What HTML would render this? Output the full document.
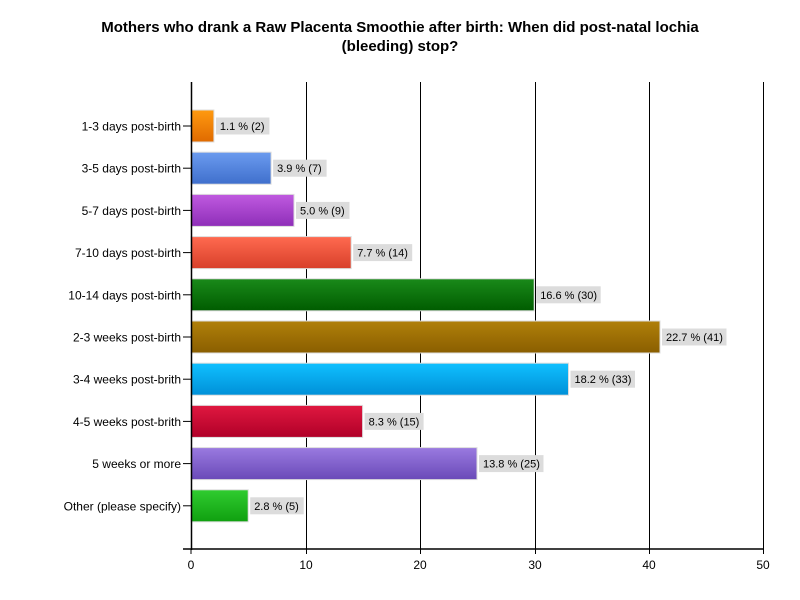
<!DOCTYPE html>
<html><head><meta charset="utf-8"><style>body{margin:0;background:#fff}svg{display:block}</style></head><body>
<svg width="800" height="600" xmlns="http://www.w3.org/2000/svg" font-family="Liberation Sans, sans-serif">
<defs>
<linearGradient id="g0" x1="0" y1="0" x2="0" y2="1"><stop offset="0" stop-color="#ff9a10"/><stop offset="1" stop-color="#e06a00"/></linearGradient>
<linearGradient id="g1" x1="0" y1="0" x2="0" y2="1"><stop offset="0" stop-color="#6b9bef"/><stop offset="1" stop-color="#3f6fcc"/></linearGradient>
<linearGradient id="g2" x1="0" y1="0" x2="0" y2="1"><stop offset="0" stop-color="#c05ae0"/><stop offset="1" stop-color="#8e2eb8"/></linearGradient>
<linearGradient id="g3" x1="0" y1="0" x2="0" y2="1"><stop offset="0" stop-color="#ff6a50"/><stop offset="1" stop-color="#d8402a"/></linearGradient>
<linearGradient id="g4" x1="0" y1="0" x2="0" y2="1"><stop offset="0" stop-color="#1a8a1a"/><stop offset="1" stop-color="#005c00"/></linearGradient>
<linearGradient id="g5" x1="0" y1="0" x2="0" y2="1"><stop offset="0" stop-color="#b0800a"/><stop offset="1" stop-color="#8a5e00"/></linearGradient>
<linearGradient id="g6" x1="0" y1="0" x2="0" y2="1"><stop offset="0" stop-color="#10c0ff"/><stop offset="1" stop-color="#0090d8"/></linearGradient>
<linearGradient id="g7" x1="0" y1="0" x2="0" y2="1"><stop offset="0" stop-color="#e01840"/><stop offset="1" stop-color="#b00028"/></linearGradient>
<linearGradient id="g8" x1="0" y1="0" x2="0" y2="1"><stop offset="0" stop-color="#9a7ae0"/><stop offset="1" stop-color="#6a4ab8"/></linearGradient>
<linearGradient id="g9" x1="0" y1="0" x2="0" y2="1"><stop offset="0" stop-color="#30cc30"/><stop offset="1" stop-color="#10a010"/></linearGradient>
</defs>
<text x="400" y="32" text-anchor="middle" font-size="15" font-weight="bold">Mothers who drank a Raw Placenta Smoothie after birth: When did post-natal lochia</text>
<text x="400" y="51" text-anchor="middle" font-size="15" font-weight="bold">(bleeding) stop?</text>
<g stroke="#000" stroke-width="1">
<line x1="306.5" y1="82" x2="306.5" y2="549"/>
<line x1="420.5" y1="82" x2="420.5" y2="549"/>
<line x1="535.5" y1="82" x2="535.5" y2="549"/>
<line x1="649.5" y1="82" x2="649.5" y2="549"/>
<line x1="763.5" y1="82" x2="763.5" y2="549"/>
</g>
<g stroke="#ddd" stroke-width="1">
<rect x="191" y="110" width="22.9" height="32" fill="url(#g0)"/>
<rect x="191" y="152.2" width="80.1" height="32" fill="url(#g1)"/>
<rect x="191" y="194.4" width="103" height="32" fill="url(#g2)"/>
<rect x="191" y="236.6" width="160.2" height="32" fill="url(#g3)"/>
<rect x="191" y="278.8" width="343.2" height="32" fill="url(#g4)"/>
<rect x="191" y="321" width="469" height="32" fill="url(#g5)"/>
<rect x="191" y="363.2" width="377.5" height="32" fill="url(#g6)"/>
<rect x="191" y="405.4" width="171.6" height="32" fill="url(#g7)"/>
<rect x="191" y="447.6" width="286" height="32" fill="url(#g8)"/>
<rect x="191" y="489.8" width="57.2" height="32" fill="url(#g9)"/>
</g>
<g fill="#dcdcdc">
<rect x="215.9" y="117.5" width="53.5" height="17"/>
<rect x="273.1" y="159.7" width="53.5" height="17"/>
<rect x="296" y="201.9" width="53.5" height="17"/>
<rect x="353.2" y="244.1" width="59" height="17"/>
<rect x="536.2" y="286.3" width="64.5" height="17"/>
<rect x="662" y="328.5" width="64.5" height="17"/>
<rect x="570.5" y="370.7" width="64.5" height="17"/>
<rect x="364.6" y="412.9" width="59" height="17"/>
<rect x="479" y="455.1" width="64.5" height="17"/>
<rect x="250.2" y="497.3" width="53.5" height="17"/>
</g>
<g font-size="11">
<text x="219.9" y="130">1.1 % (2)</text>
<text x="277.1" y="172.2">3.9 % (7)</text>
<text x="300" y="214.4">5.0 % (9)</text>
<text x="357.2" y="256.6">7.7 % (14)</text>
<text x="540.2" y="298.8">16.6 % (30)</text>
<text x="666" y="341">22.7 % (41)</text>
<text x="574.5" y="383.2">18.2 % (33)</text>
<text x="368.6" y="425.4">8.3 % (15)</text>
<text x="483" y="467.6">13.8 % (25)</text>
<text x="254.2" y="509.8">2.8 % (5)</text>
</g>
<g font-size="12" text-anchor="end">
<text x="181" y="130.5">1-3 days post-birth</text>
<text x="181" y="172.7">3-5 days post-birth</text>
<text x="181" y="214.9">5-7 days post-birth</text>
<text x="181" y="257.1">7-10 days post-birth</text>
<text x="181" y="299.3">10-14 days post-birth</text>
<text x="181" y="341.5">2-3 weeks post-birth</text>
<text x="181" y="383.7">3-4 weeks post-brith</text>
<text x="181" y="425.9">4-5 weeks post-brith</text>
<text x="181" y="468.1">5 weeks or more</text>
<text x="181" y="510.3">Other (please specify)</text>
</g>
<g stroke="#000" stroke-width="1">
<line x1="183" y1="126" x2="191" y2="126"/>
<line x1="183" y1="168.2" x2="191" y2="168.2"/>
<line x1="183" y1="210.4" x2="191" y2="210.4"/>
<line x1="183" y1="252.6" x2="191" y2="252.6"/>
<line x1="183" y1="294.8" x2="191" y2="294.8"/>
<line x1="183" y1="337" x2="191" y2="337"/>
<line x1="183" y1="379.2" x2="191" y2="379.2"/>
<line x1="183" y1="421.4" x2="191" y2="421.4"/>
<line x1="183" y1="463.6" x2="191" y2="463.6"/>
<line x1="183" y1="505.8" x2="191" y2="505.8"/>
</g>
<g stroke="#000" stroke-width="1.5">
<line x1="191.5" y1="82" x2="191.5" y2="550"/>
<line x1="183" y1="549" x2="764" y2="549"/>
</g>
<g font-size="12" text-anchor="middle">
<text x="191" y="569">0</text><text x="306" y="569">10</text><text x="420" y="569">20</text><text x="535" y="569">30</text><text x="649" y="569">40</text><text x="763" y="569">50</text>
</g>
<g stroke="#000" stroke-width="1">
<line x1="191" y1="549" x2="191" y2="554"/><line x1="306.5" y1="549" x2="306.5" y2="554"/><line x1="420.5" y1="549" x2="420.5" y2="554"/><line x1="535.5" y1="549" x2="535.5" y2="554"/><line x1="649.5" y1="549" x2="649.5" y2="554"/><line x1="763.5" y1="549" x2="763.5" y2="554"/>
</g>
</svg>
</body></html>
